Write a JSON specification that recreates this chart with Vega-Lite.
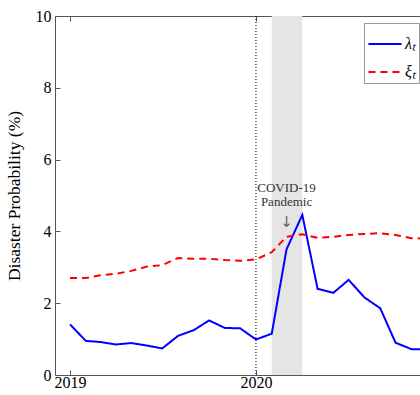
{
  "$schema": "https://vega.github.io/schema/vega-lite/v6.json",
  "autosize": "none",
  "padding": {"left": 55, "top": 16, "right": 0, "bottom": 20},
  "width": 380,
  "height": 359,
  "config": {
    "view": {"stroke": "#555", "strokeWidth": 1},
    "font": "Liberation Serif",
    "axis": {"labelFont": "Liberation Serif", "titleFont": "Liberation Serif", "labelColor": "#000", "titleColor": "#000", "domainColor": "#555", "tickColor": "#555", "grid": false}
  },
  "datasets": {
    "prob": [
      {"date": "2019-01-01", "series": "λₜ", "value": 1.41},
      {"date": "2019-02-01", "series": "λₜ", "value": 0.95},
      {"date": "2019-03-01", "series": "λₜ", "value": 0.92},
      {"date": "2019-04-01", "series": "λₜ", "value": 0.85},
      {"date": "2019-05-01", "series": "λₜ", "value": 0.89},
      {"date": "2019-06-01", "series": "λₜ", "value": 0.82},
      {"date": "2019-07-01", "series": "λₜ", "value": 0.74},
      {"date": "2019-08-01", "series": "λₜ", "value": 1.09},
      {"date": "2019-09-01", "series": "λₜ", "value": 1.25},
      {"date": "2019-10-01", "series": "λₜ", "value": 1.52},
      {"date": "2019-11-01", "series": "λₜ", "value": 1.31},
      {"date": "2019-12-01", "series": "λₜ", "value": 1.30},
      {"date": "2020-01-01", "series": "λₜ", "value": 0.99},
      {"date": "2020-02-01", "series": "λₜ", "value": 1.15},
      {"date": "2020-03-01", "series": "λₜ", "value": 3.50},
      {"date": "2020-04-01", "series": "λₜ", "value": 4.46},
      {"date": "2020-05-01", "series": "λₜ", "value": 2.40},
      {"date": "2020-06-01", "series": "λₜ", "value": 2.29},
      {"date": "2020-07-01", "series": "λₜ", "value": 2.65},
      {"date": "2020-08-01", "series": "λₜ", "value": 2.16},
      {"date": "2020-09-01", "series": "λₜ", "value": 1.86},
      {"date": "2020-10-01", "series": "λₜ", "value": 0.90},
      {"date": "2020-11-01", "series": "λₜ", "value": 0.72},
      {"date": "2020-12-01", "series": "λₜ", "value": 0.72},
      {"date": "2019-01-01", "series": "ξₜ", "value": 2.70},
      {"date": "2019-02-01", "series": "ξₜ", "value": 2.70},
      {"date": "2019-03-01", "series": "ξₜ", "value": 2.78},
      {"date": "2019-04-01", "series": "ξₜ", "value": 2.82},
      {"date": "2019-05-01", "series": "ξₜ", "value": 2.90},
      {"date": "2019-06-01", "series": "ξₜ", "value": 3.02},
      {"date": "2019-07-01", "series": "ξₜ", "value": 3.06},
      {"date": "2019-08-01", "series": "ξₜ", "value": 3.26},
      {"date": "2019-09-01", "series": "ξₜ", "value": 3.24},
      {"date": "2019-10-01", "series": "ξₜ", "value": 3.24},
      {"date": "2019-11-01", "series": "ξₜ", "value": 3.20},
      {"date": "2019-12-01", "series": "ξₜ", "value": 3.18},
      {"date": "2020-01-01", "series": "ξₜ", "value": 3.22},
      {"date": "2020-02-01", "series": "ξₜ", "value": 3.42},
      {"date": "2020-03-01", "series": "ξₜ", "value": 3.85},
      {"date": "2020-04-01", "series": "ξₜ", "value": 3.92},
      {"date": "2020-05-01", "series": "ξₜ", "value": 3.82},
      {"date": "2020-06-01", "series": "ξₜ", "value": 3.85},
      {"date": "2020-07-01", "series": "ξₜ", "value": 3.90},
      {"date": "2020-08-01", "series": "ξₜ", "value": 3.93},
      {"date": "2020-09-01", "series": "ξₜ", "value": 3.95},
      {"date": "2020-10-01", "series": "ξₜ", "value": 3.90},
      {"date": "2020-11-01", "series": "ξₜ", "value": 3.81},
      {"date": "2020-12-01", "series": "ξₜ", "value": 3.80}
    ]
  },
  "layer": [
    {
      "data": {"values": [{"start": "2020-02-01", "end": "2020-04-01"}]},
      "mark": {"type": "rect", "color": "#e5e5e5"},
      "encoding": {
        "x": {"field": "start", "type": "temporal", "axis": null,
              "scale": {"type": "utc", "domain": [{"year": 2018, "month": 12, "date": 2, "hours": 12, "utc": true}, {"year": 2020, "month": 12, "date": 17, "hours": 12, "utc": true}]}},
        "x2": {"field": "end"}
      }
    },
    {
      "data": {"values": [{"date": "2020-01-01"}]},
      "mark": {"type": "rule", "color": "#000", "strokeDash": [1, 2], "strokeWidth": 1},
      "encoding": {
        "x": {"field": "date", "type": "temporal",
              "axis": {"orient": "top", "labels": false, "title": null, "domain": false, "tickSize": -5, "values": [{"year": 2019, "month": 1, "date": 1, "utc": true}, {"year": 2020, "month": 1, "date": 1, "utc": true}]}}
      }
    },
    {
      "data": {"name": "prob"},
      "mark": {"type": "line", "strokeWidth": 2},
      "encoding": {
        "x": {"field": "date", "type": "temporal",
              "axis": {"title": null, "format": "%Y", "labelFontSize": 16, "tickSize": -5, "labelPadding": 4, "domain": false, "values": [{"year": 2019, "month": 1, "date": 1, "utc": true}, {"year": 2020, "month": 1, "date": 1, "utc": true}]}},
        "y": {"field": "value", "type": "quantitative",
              "scale": {"domain": [0, 10], "nice": false},
              "axis": {"title": "Disaster Probability (%)", "titleFontSize": 17.5, "titleFontWeight": "normal", "titlePadding": 12, "labelFontSize": 16, "tickSize": -5, "labelPadding": 9, "domain": false, "values": [0, 2, 4, 6, 8, 10]}},
        "color": {"field": "series", "type": "nominal",
                  "scale": {"domain": ["λₜ", "ξₜ"], "range": ["#0000ff", "#ff0000"]},
                  "legend": {"title": null, "orient": "none", "legendX": 309, "legendY": 7, "symbolType": "stroke", "symbolSize": 1100, "symbolStrokeWidth": 2, "labelFontSize": 16, "labelFont": "Liberation Serif", "labelFontStyle": "italic", "padding": 3, "labelOffset": 2, "rowPadding": 2, "strokeColor": "#999", "fillColor": "#fff", "cornerRadius": 0}},
        "strokeDash": {"field": "series", "type": "nominal",
                       "scale": {"domain": ["λₜ", "ξₜ"], "range": [[1, 0], [7, 5]]}}
      }
    },
    {
      "data": {"values": [
        {"date": "2020-03-01", "y": 5.21, "label": "COVID-19"},
        {"date": "2020-03-01", "y": 4.82, "label": "Pandemic"}
      ]},
      "mark": {"type": "text", "fontSize": 13, "color": "#333", "font": "Liberation Serif", "baseline": "middle"},
      "encoding": {
        "x": {"field": "date", "type": "temporal", "axis": null},
        "y": {"field": "y", "type": "quantitative", "axis": null},
        "text": {"field": "label"}
      }
    },
    {
      "data": {"values": [
        {"date": "2020-03-01", "y": 4.26, "label": "↓"}
      ]},
      "mark": {"type": "text", "fontSize": 15, "color": "#666", "font": "DejaVu Sans", "baseline": "middle"},
      "encoding": {
        "x": {"field": "date", "type": "temporal", "axis": null},
        "y": {"field": "y", "type": "quantitative", "axis": null},
        "text": {"field": "label"}
      }
    }
  ],
  "resolve": {"axis": {"x": "independent", "y": "independent"}}
}
